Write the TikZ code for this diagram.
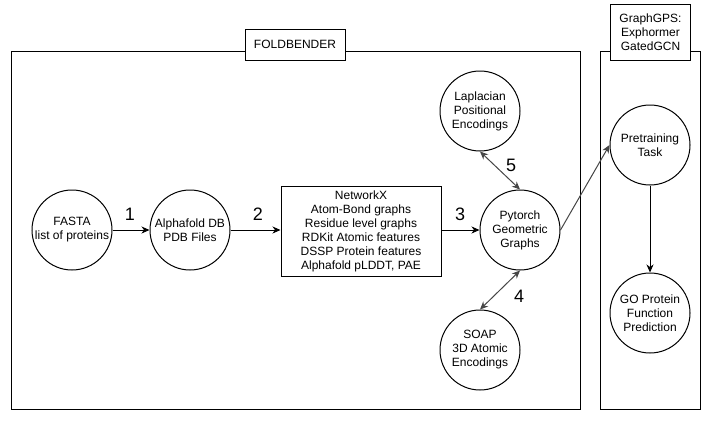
\documentclass[tikz,border=0pt]{standalone}
\usepackage{fontspec}
\setmainfont{Liberation Sans}
\usetikzlibrary{arrows.meta}
\begin{document}
\begin{tikzpicture}[x=1pt,y=-1pt,
  every node/.style={font=\fontsize{12pt}{14pt}\selectfont, align=center, text=black},
  circ/.style={circle, draw, line width=1pt, minimum size=80pt, inner sep=0pt, fill=white},
  container/.style={draw, line width=1pt, inner sep=0pt},
  lbl/.style={draw, line width=1pt, fill=white, inner sep=0pt},
  textbox/.style={draw, line width=1pt, fill=white, inner sep=0pt, minimum width=160pt, minimum height=90pt},
  num/.style={font=\fontsize{18pt}{20pt}\selectfont},
  arr/.style={line width=1pt, -{Stealth[length=8pt,width=7pt,inset=2.5pt]}},
  garr/.style={arr, draw={rgb,255:red,70;green,70;blue,70}},
  dgarr/.style={garr, {Stealth[length=8pt,width=7pt,inset=2.5pt]}-{Stealth[length=8pt,width=7pt,inset=2.5pt]}},
]
\useasboundingbox (0,0) rectangle (711,421);

% containers
\node[container, minimum width=569pt, minimum height=358pt] (fold) at (295.5,230) {};
\node[container, minimum width=100pt, minimum height=358pt] (gps) at (650,230) {};
\node[lbl, minimum width=100pt, minimum height=31pt] (foldlbl) at (295,44.5) {FOLDBENDER};
\node[lbl, minimum width=80pt, minimum height=56pt] (gpslbl) at (650.5,32) {GraphGPS:\\Exphormer\\GatedGCN};

% nodes
\node[circ] (fasta) at (72,230) {FASTA\\list of proteins};
\node[circ] (alpha) at (190,230) {Alphafold DB\\PDB Files};
\node[textbox] (nx) at (361,231) {NetworkX\\Atom-Bond graphs\\Residue level graphs\\RDKit Atomic features\\DSSP Protein features\\Alphafold pLDDT, PAE};
\node[circ] (pyt) at (520,230) {Pytorch\\Geometric\\Graphs};
\node[circ] (lap) at (480,111) {Laplacian\\Positional\\Encodings};
\node[circ] (soap) at (480,350) {SOAP\\3D Atomic\\Encodings};
\node[circ] (pre) at (650,145) {Pretraining\\Task};
\node[circ] (go) at (650,313) {GO Protein\\Function\\Prediction};

% connectors
\draw[arr] (fasta) -- (alpha);
\draw[arr] (alpha.east) -- (alpha.east -| nx.west);
\draw[arr] (nx.east |- pyt.west) -- (pyt.west);
\draw[dgarr] (lap.south) -- (pyt.north);
\draw[dgarr] (pyt.south) -- (soap.north);
\draw[garr] (pyt.east) -- (pre.west);
\draw[arr] (pre) -- (go);

% labels
\node[num] (n1) at (130,214) {1};
\node[num] (n2) at (258,214) {2};
\node[num] (n3) at (460,214) {3};
\node[num] (n4) at (519,296) {4};
\node[num] (n5) at (511,165) {5};
\end{tikzpicture}
\end{document}
